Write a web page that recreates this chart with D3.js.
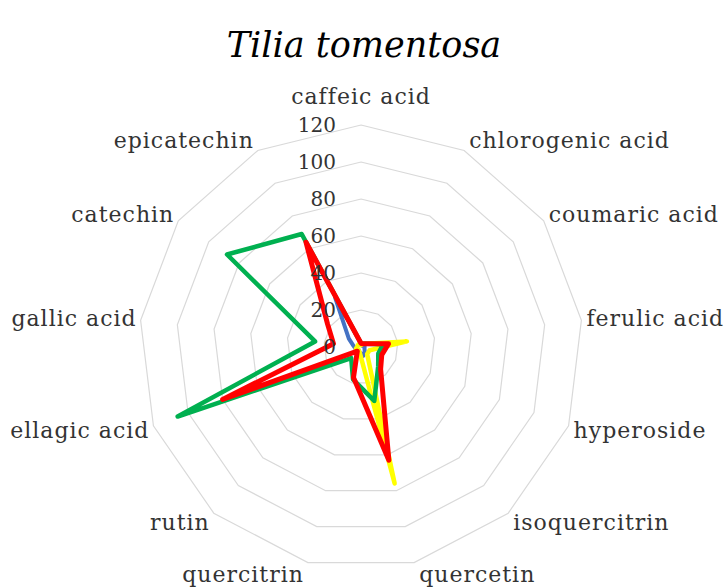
<!DOCTYPE html>
<html>
<head>
<meta charset="utf-8">
<script src="https://cdn.jsdelivr.net/npm/d3@7"></script>
<style>
  html, body { margin: 0; padding: 0; background: #fff; }
  svg { display: block; }
</style>
</head>
<body>
<svg id="chart" width="725" height="588"></svg>
<script>
// Phenolic compounds, clockwise from the top
const categories = [
  "caffeic acid", "chlorogenic acid", "coumaric acid", "ferulic acid",
  "hyperoside", "isoquercitrin", "quercetin", "quercitrin", "rutin",
  "ellagic acid", "gallic acid", "catechin", "epicatechin"
];
const tickValues = [0, 20, 40, 60, 80, 100, 120];

const blueValues   = [2, 1, 1, 2, 2, 3, 5, 3, 2, 3, 4, 8, 30];
const yellowValues = [1, 2, 3, 25, 5, 5, 76, 3, 2, 3, 2, 2, 2];
const greenValues  = [2, 2, 3, 12, 10, 14, 30, 18, 8, 106, 25, 88, 69];
const redValues    = [2, 2, 3, 15, 12, 16, 63, 17, 3, 80, 15, 22, 64];

const seriesList = [
  { values: blueValues,   color: "#4472c4", width: 4 },
  { values: yellowValues, color: "#ffff00", width: 4.5 },
  { values: greenValues,  color: "#00b050", width: 4.5 },
  { values: redValues,    color: "#ff0000", width: 5 }
];

const svg = d3.select("#chart");
const cx = 361, cy = 347, R = 222;
const font = "DejaVu Serif";

const r = d3.scaleLinear().domain([0, 120]).range([0, R]);
const angle = d3.scalePoint()
  .domain(categories)
  .range([0, 2 * Math.PI * (categories.length - 1) / categories.length]);

const pt = (cat, v) => {
  const a = angle(cat);
  return [cx + r(v) * Math.sin(a), cy - r(v) * Math.cos(a)];
};

const g = svg.append("g");

// Title
svg.append("text")
  .attr("x", 364).attr("y", 57)
  .attr("text-anchor", "middle")
  .attr("font-family", font)
  .attr("font-style", "italic")
  .attr("font-size", 35)
  .attr("fill", "#000")
  .text("Tilia tomentosa");

// Polygon grid rings
const ringLine = d3.line();
tickValues.filter(t => t > 0).forEach(t => {
  const pts = categories.map(c => pt(c, t));
  g.append("path")
    .attr("d", ringLine(pts) + "Z")
    .attr("fill", "none")
    .attr("stroke", "#d9d9d9")
    .attr("stroke-width", 1.2);
});

// Data polygons
const seriesLine = d3.line().curve(d3.curveLinearClosed);
seriesList.forEach(s => {
  g.append("path")
    .attr("d", seriesLine(categories.map((c, i) => pt(c, s.values[i]))))
    .attr("fill", "none")
    .attr("stroke", s.color)
    .attr("stroke-width", s.width)
    .attr("stroke-linejoin", "round");
});

// Value tick labels along the top axis
g.selectAll(".tick")
  .data(tickValues)
  .join("text")
  .attr("x", cx - 25)
  .attr("y", d => cy - r(d))
  .attr("dy", "0.35em")
  .attr("text-anchor", "end")
  .attr("font-family", font)
  .attr("font-size", 20)
  .attr("fill", "#333")
  .text(d => d);

// Category labels outside the outer ring
g.selectAll(".cat")
  .data(categories)
  .join("text")
  .each(function (c) {
    const a = angle(c);
    const s = Math.sin(a), co = Math.cos(a);
    const [vx, vy] = pt(c, 120);
    const sel = d3.select(this);
    if (Math.abs(s) < 0.05) {
      sel.attr("x", vx).attr("y", vy - 29).attr("text-anchor", "middle");
    } else {
      sel.attr("x", vx + (s > 0 ? 5 : -4))
        .attr("y", vy - co * 12)
        .attr("text-anchor", s > 0 ? "start" : "end");
    }
  })
  .attr("dy", "0.35em")
  .attr("font-family", font)
  .attr("font-size", 22)
  .attr("letter-spacing", 1)
  .attr("fill", "#333")
  .text(c => c);
</script>
</body>
</html>
